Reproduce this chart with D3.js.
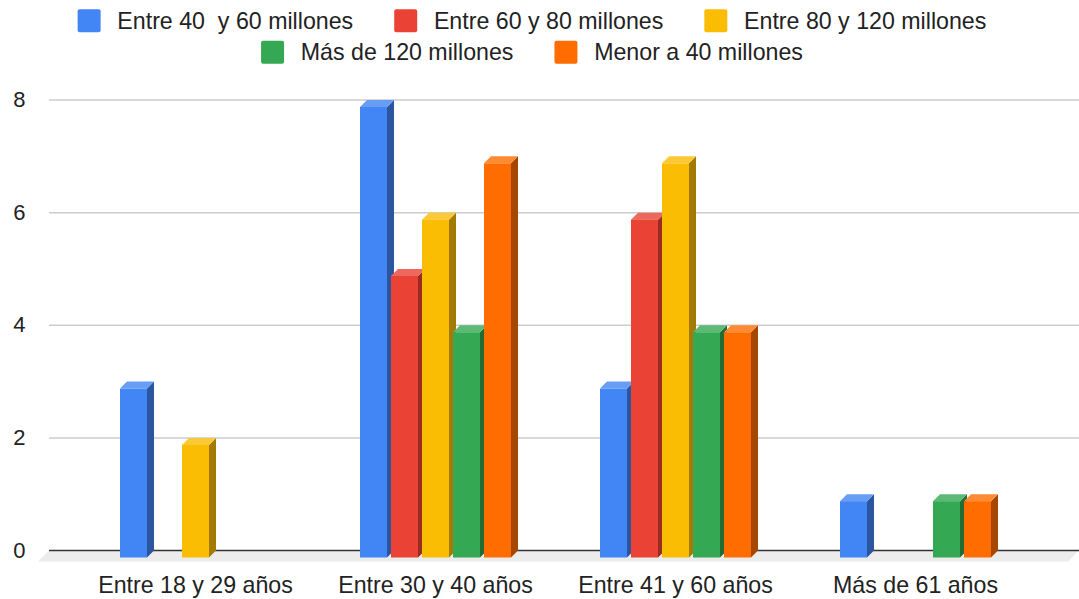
<!DOCTYPE html>
<html>
<head>
<meta charset="utf-8">
<script src="https://cdn.jsdelivr.net/npm/d3@7"></script>
<style>
  html, body { margin: 0; padding: 0; background: #ffffff; }
  svg text { font-family: "Liberation Sans", Arial, Helvetica, sans-serif; fill: #222222; white-space: pre; }
</style>
</head>
<body>
<svg id="chart" width="1079" height="599"></svg>
<script>
// ---- data ----
const categories = ["Entre 18 y 29 años", "Entre 30 y 40 años", "Entre 41 y 60 años", "Más de 61 años"];
const seriesNames = ["Entre 40  y 60 millones", "Entre 60 y 80 millones", "Entre 80 y 120 millones", "Más de 120 millones", "Menor a 40 millones"];
const values40a60 = [3, 8, 3, 1];
const values60a80 = [0, 5, 6, 0];
const values80a120 = [2, 6, 7, 0];
const valuesMas120 = [0, 4, 4, 1];
const valuesMenor40 = [0, 7, 4, 1];
const seriesColors = ["#4285F4", "#EA4335", "#FBBC04", "#34A853", "#FF6D01"];
const yTicks = [0, 2, 4, 6, 8];

const seriesValues = [values40a60, values60a80, values80a120, valuesMas120, valuesMenor40];

// ---- layout ----
const W = 1079, H = 599;
const plotLeft = 49, plotRight = 1079;
const depth = 7;
const tickFont = 22;
const labelFont = 23.2;

const svg = d3.select("#chart");

const y = d3.scaleLinear().domain([0, 8]).range([550.5, 100]);
const x0 = d3.scaleBand().domain(categories).range([75.5, 1035.5]);
const x1 = d3.scaleBand().domain(seriesNames).range([0, 155]).paddingInner(4 / 31).paddingOuter(2 / 31);
const groupOffset = (x0.bandwidth() - 155) / 2;

function shade(c, k) {
  const r = d3.rgb(c);
  return d3.rgb(r.r * k, r.g * k, r.b * k).formatHex();
}
function tint(c, k) {
  const r = d3.rgb(c);
  return d3.rgb(r.r + (255 - r.r) * k, r.g + (255 - r.g) * k, r.b + (255 - r.b) * k).formatHex();
}

// gridlines
svg.append("g").selectAll("line").data(yTicks.filter(t => t !== 0)).join("line")
  .attr("x1", plotLeft).attr("x2", plotRight)
  .attr("y1", d => y(d)).attr("y2", d => y(d))
  .attr("stroke", "#cccccc").attr("stroke-width", 1.5);

// floor
const y0 = y(0);
svg.append("polygon")
  .attr("points", [[plotLeft, y0], [plotRight, y0], [plotRight - 11, y0 + 11], [plotLeft - 11, y0 + 11]].map(p => p.join(",")).join(" "))
  .attr("fill", "#ececec");

// zero line
svg.append("line")
  .attr("x1", plotLeft).attr("x2", plotRight)
  .attr("y1", y0).attr("y2", y0)
  .attr("stroke", "#333333").attr("stroke-width", 1.5);

// y tick labels
svg.append("g").selectAll("text").data(yTicks).join("text")
  .attr("x", 25.5).attr("y", d => y(d) + 7)
  .attr("text-anchor", "end")
  .attr("font-size", tickFont)
  .text(d => d);

// bars
const bars = [];
categories.forEach((c, ci) => {
  seriesNames.forEach((s, si) => {
    const v = seriesValues[si][ci];
    if (v > 0) bars.push({ c, s, v, color: seriesColors[si] });
  });
});
const barG = svg.append("g");
bars.forEach(b => {
  const fx = x0(b.c) + groupOffset + x1(b.s);
  const w = x1.bandwidth();
  const yt = y(b.v) + depth;
  const yb = y(0) + depth;
  const g = barG.append("g");
  g.append("polygon")
    .attr("points", [[fx + w, yt], [fx + w + depth, yt - depth], [fx + w + depth, yb - depth], [fx + w, yb]].map(p => p.join(",")).join(" "))
    .attr("fill", shade(b.color, 0.65));
  g.append("polygon")
    .attr("points", [[fx, yt], [fx + depth, yt - depth], [fx + w + depth, yt - depth], [fx + w, yt]].map(p => p.join(",")).join(" "))
    .attr("fill", tint(b.color, 0.2));
  g.append("rect")
    .attr("x", fx).attr("y", yt).attr("width", w).attr("height", yb - yt)
    .attr("fill", b.color);
});

// x labels
svg.append("g").selectAll("text").data(categories).join("text")
  .attr("x", d => x0(d) + x0.bandwidth() / 2)
  .attr("y", 593)
  .attr("text-anchor", "middle")
  .attr("font-size", labelFont)
  .text(d => d);

// legend
const legendRows = [[0, 1, 2], [3, 4]];
const rowBaselines = [28.5, 60];
const sw = 23, swGap = 16.7, itemGap = 41, centerX = 532;
legendRows.forEach((row, ri) => {
  const g = svg.append("g");
  let xCur = 0;
  row.forEach(si => {
    const it = g.append("g").attr("transform", `translate(${xCur},0)`);
    it.append("rect")
      .attr("x", 0).attr("y", rowBaselines[ri] - 19.2)
      .attr("width", sw).attr("height", sw).attr("rx", 2)
      .attr("fill", seriesColors[si]);
    const t = it.append("text")
      .attr("x", sw + swGap).attr("y", rowBaselines[ri])
      .attr("font-size", labelFont)
      .text(seriesNames[si]);
    xCur += sw + swGap + t.node().getComputedTextLength() + itemGap;
  });
  const total = xCur - itemGap;
  g.attr("transform", `translate(${centerX - total / 2},0)`);
});
</script>
</body>
</html>
